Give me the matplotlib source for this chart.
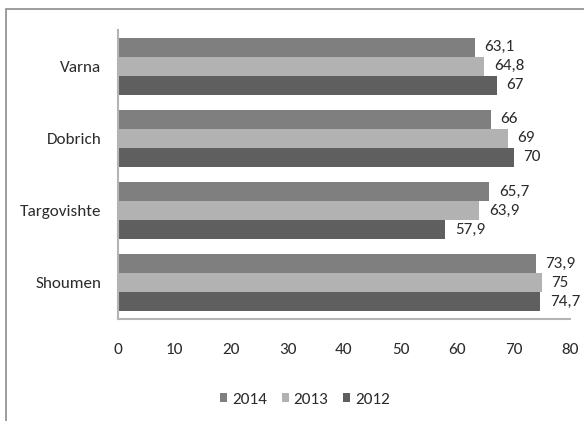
import matplotlib
matplotlib.use("Agg")
import matplotlib.pyplot as plt
from matplotlib.patches import Rectangle, Patch
import numpy as np

categories = ["Varna", "Dobrich", "Targovishte", "Shoumen"]
years = ["2014", "2013", "2012"]
v2014 = [63.1, 66, 65.7, 73.9]
v2013 = [64.8, 69, 63.9, 75]
v2012 = [67, 70, 57.9, 74.7]
xticks = [0, 10, 20, 30, 40, 50, 60, 70, 80]

colors = ["#7f7f7f", "#b2b2b2", "#5f5f5f"]
plt.rcParams['font.family'] = ['Carlito', 'Liberation Sans', 'DejaVu Sans']
FS = 12.3
TC = "#2b2b2b"

W, H = 584, 421
fig = plt.figure(figsize=(W / 100, H / 100), dpi=100)
fig.patch.set_facecolor("white")

# outer frame (cropped at right and bottom)
fig.add_artist(Rectangle((6 / W, -0.05), 1.2, 1 - 9 / H + 0.05, transform=fig.transFigure,
                         fill=False, edgecolor="#8c8c8c", linewidth=1.2))

ax = fig.add_axes([118 / W, 1 - 319 / H, (570 - 118) / W, (319 - 30) / H])

h = 19 / 72
y = np.arange(len(categories))
series = [v2014, v2013, v2012]
for k, (vals, col) in enumerate(zip(series, colors)):
    off = (k - 1) * h
    ax.barh(y + off, vals, height=h, color=col, edgecolor="none")
    for yy, v in zip(y + off, vals):
        lab = f"{v:g}".replace(".", ",")
        ax.annotate(lab, (v, yy), xytext=(7, 0), textcoords="offset points",
                    va="center", ha="left", fontsize=FS, color=TC)

ax.set_ylim(len(categories) - 0.5, -0.5)
ax.set_xlim(0, 80)
ax.set_xticks(xticks)
ax.set_xticklabels([str(t) for t in xticks])
ax.set_yticks(y)
ax.set_yticklabels(categories)
ax.tick_params(axis="both", length=0, labelsize=FS, colors=TC)
ax.tick_params(axis="x", pad=17.5)
ax.tick_params(axis="y", pad=12)
for s in ["top", "right"]:
    ax.spines[s].set_visible(False)
for s in ["left", "bottom"]:
    ax.spines[s].set_color("#b4b4b4")
    ax.spines[s].set_linewidth(1.5)

handles = [Patch(facecolor=c, edgecolor="none", label=l) for c, l in zip(colors, years)]
leg = fig.legend(handles=handles, loc="center", bbox_to_anchor=(305 / W, 1 - 400 / H), ncol=3,
                 frameon=False, fontsize=FS, handlelength=0.42, handleheight=0.42,
                 handletextpad=0.3, columnspacing=0.85)
for t in leg.get_texts():
    t.set_color(TC)

fig.savefig("out.png", dpi=100)
